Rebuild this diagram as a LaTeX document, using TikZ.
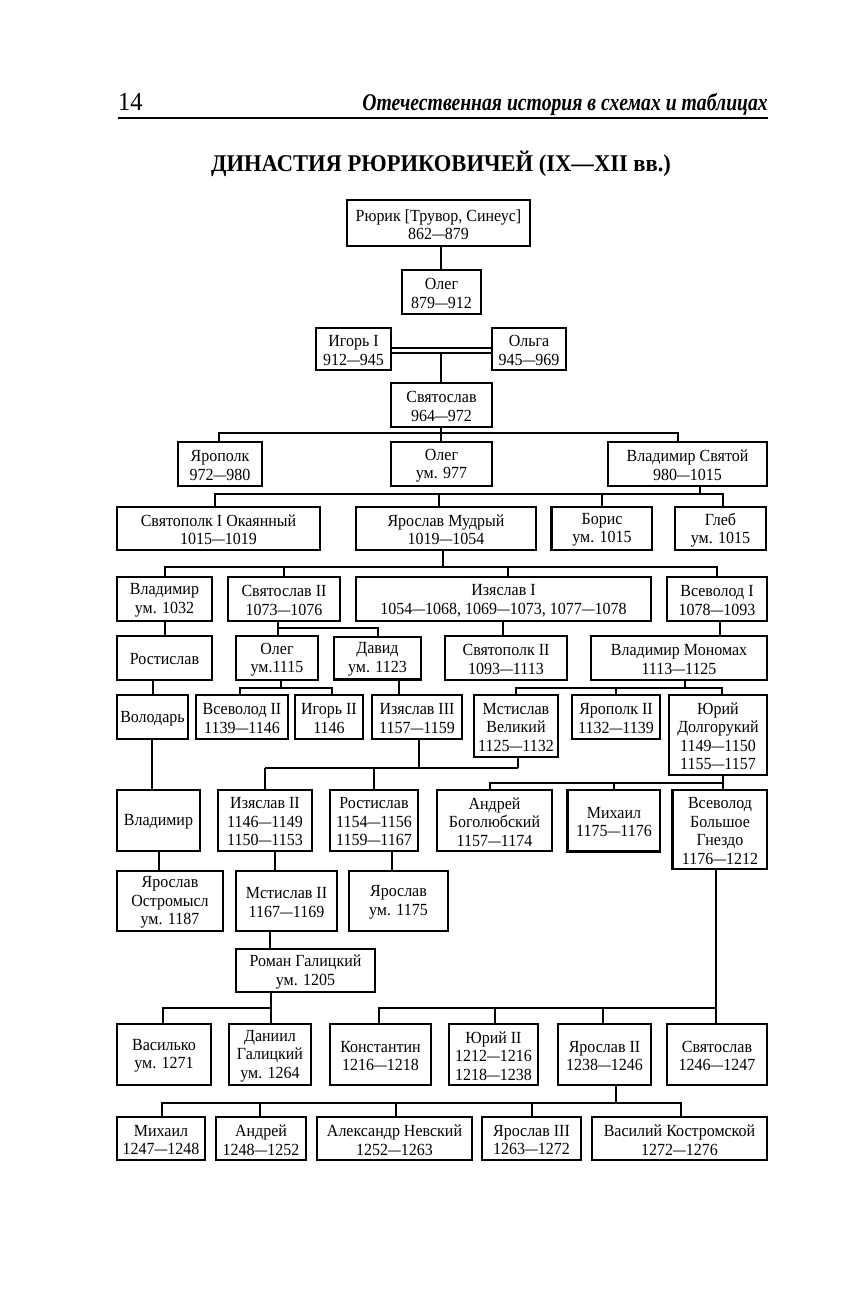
\documentclass[tikz,border=0pt]{standalone}
\usepackage{fontspec}
\setmainfont{Liberation Serif}[FakeStretch=0.94]
\newfontfamily\hdfont{Liberation Serif}[FakeStretch=0.82]
\newcommand\dsh{\scalebox{0.8}[1]{—}}
\tikzset{
  box/.style={draw, line width=1.2pt, inner sep=0pt},
  txt/.style={align=center, inner sep=0pt, font=\fontsize{17}{18.5}\selectfont},
  ln/.style={line width=1.1pt},
  thk/.style={line width=2pt}
}
\newcommand\bx[6]{%
  \node[box, minimum width={(#4-#2)*1pt}, minimum height={(#5-#3)*1pt}] (#1) at ({(#2+#4)/2},{(#3+#5)/2}) {};
  \node[txt] (#1t) at ([yshift=-1.5pt]#1.center) {#6};}
\begin{document}
\begin{tikzpicture}[x=1pt,y=-1pt]
\useasboundingbox[fill=white] (0,0) rectangle (845,1312);
% header
\node[anchor=base west, inner sep=0pt, font=\fontsize{26}{28}\selectfont] (pg) at (118,110) {14};
\node[anchor=base east, inner sep=0pt, font=\hdfont\fontsize{24}{28}\selectfont\bfseries\itshape] (hd) at (768,110) {Отечественная история в схемах и таблицах};
\coordinate (rl) at (118,118);
\coordinate (rr) at (768,118);
\draw[line width=1.5pt] (rl) -- (rr);
\node[anchor=base, inner sep=0pt, font=\fontsize{24}{28}\selectfont\bfseries] (title) at (441,171) {ДИНАСТИЯ РЮРИКОВИЧЕЙ (IX—XII вв.)};
% boxes
\bx{rurik}{347}{200}{530}{246}{Рюрик [Трувор, Синеус]\\862\dsh 879}
\bx{olegA}{402}{270}{481}{314}{Олег\\879\dsh 912}
\bx{igor}{316}{328}{391}{370}{Игорь I\\912\dsh 945}
\bx{olga}{492}{328}{566}{370}{Ольга\\945\dsh 969}
\bx{svyat}{391}{383}{492}{427}{Святослав\\964\dsh 972}
\bx{yaropolk}{178}{442}{262}{486}{Ярополк\\972\dsh 980}
\bx{olegB}{391}{442}{492}{486}{Олег\\ум. 977}
\bx{vladsv}{608}{442}{767}{486}{Владимир Святой\\980\dsh 1015}
\bx{svyatopolk}{117}{507}{320}{550}{Святополк I Окаянный\\1015\dsh 1019}
\bx{yaroslav}{356}{507}{536}{550}{Ярослав Мудрый\\1019\dsh 1054}
\bx{boris}{552}{507}{652}{550}{Борис\\ум. 1015}
\bx{gleb}{675}{507}{766}{550}{Глеб\\ум. 1015}
\bx{vladA}{117}{577}{212}{621}{Владимир\\ум. 1032}
\bx{svyatB}{228}{577}{340}{621}{Святослав II\\1073\dsh 1076}
\bx{izyasA}{356}{577}{651}{621}{Изяслав I\\1054\dsh 1068, 1069\dsh 1073, 1077\dsh 1078}
\bx{vsevA}{667}{577}{767}{621}{Всеволод I\\1078\dsh 1093}
\bx{rostisA}{117}{636}{212}{680}{Ростислав}
\bx{olegC}{236}{636}{318}{680}{Олег\\ум.1115}
\bx{david}{334}{637}{421}{679}{Давид\\ум. 1123}
\bx{svyatopB}{445}{636}{567}{680}{Святополк II\\1093\dsh 1113}
\bx{monomakh}{591}{636}{767}{680}{Владимир Мономах\\1113\dsh 1125}
\bx{volodar}{117}{695}{188}{739}{Володарь}
\bx{vsevB}{196}{695}{288}{739}{Всеволод II\\1139\dsh 1146}
\bx{igorB}{295}{695}{363}{739}{Игорь II\\1146}
\bx{izyasC}{372}{695}{462}{739}{Изяслав III\\1157\dsh 1159}
\bx{mstislav}{474}{695}{558}{757}{Мстислав\\Великий\\1125\dsh 1132}
\bx{yaropolkB}{572}{695}{660}{739}{Ярополк II\\1132\dsh 1139}
\bx{yuri}{669}{695}{767}{775}{Юрий\\Долгорукий\\1149\dsh 1150\\1155\dsh 1157}
\bx{vladB}{117}{790}{200}{851}{Владимир}
\bx{izyasB}{218}{790}{312}{851}{Изяслав II\\1146\dsh 1149\\1150\dsh 1153}
\bx{rostisB}{330}{790}{418}{851}{Ростислав\\1154\dsh 1156\\1159\dsh 1167}
\bx{andrey}{437}{790}{552}{851}{Андрей\\Боголюбский\\1157\dsh 1174}
\bx{mikhail}{568}{790}{660}{851}{Михаил\\1175\dsh 1176}
\bx{vsevbg}{673}{790}{767}{869}{Всеволод\\Большое\\Гнездо\\1176\dsh 1212}
\bx{yarostr}{117}{871}{223}{931}{Ярослав\\Остромысл\\ум. 1187}
\bx{mstisB}{236}{871}{337}{931}{Мстислав II\\1167\dsh 1169}
\bx{yaroC}{349}{871}{448}{931}{Ярослав\\ум. 1175}
\bx{roman}{236}{949}{375}{992}{Роман Галицкий\\ум. 1205}
\bx{vasilko}{117}{1024}{211}{1085}{Василько\\ум. 1271}
\bx{daniil}{229}{1024}{311}{1085}{Даниил\\Галицкий\\ум. 1264}
\bx{konst}{330}{1024}{431}{1085}{Константин\\1216\dsh 1218}
\bx{yuriB}{449}{1024}{538}{1085}{Юрий II\\1212\dsh 1216\\1218\dsh 1238}
\bx{yaroB}{558}{1024}{651}{1085}{Ярослав II\\1238\dsh 1246}
\bx{svyatC}{667}{1024}{767}{1085}{Святослав\\1246\dsh 1247}
\bx{mikhB}{117}{1117}{205}{1160}{Михаил\\1247\dsh 1248}
\bx{andrB}{216}{1117}{306}{1160}{Андрей\\1248\dsh 1252}
\bx{alex}{317}{1117}{472}{1160}{Александр Невский\\1252\dsh 1263}
\bx{yaroD}{482}{1117}{581}{1160}{Ярослав III\\1263\dsh 1272}
\bx{vasiliy}{592}{1117}{767}{1160}{Василий Костромской\\1272\dsh 1276}
% heavier printed edges
\draw[thk] (boris.north west) -- (boris.south west);
\draw[thk] (david.south west) -- (david.south east);
\draw[thk] (mikhail.north west) -- (mikhail.south west) -- (mikhail.south east);
\draw[thk] (vsevbg.north west) -- (vsevbg.south west);
% connectors
\draw[thk] (441,0 |- rurik.south) -- (441,0 |- olegA.north);
\draw[ln] (igor.east |- 0,348) -- (olga.west |- 0,348);
\draw[ln] (igor.east |- 0,353) -- (olga.west |- 0,353);
\draw[ln] (441,353) -- (441,0 |- svyat.north);
% Svyatoslav children
\draw[ln] (441,0 |- svyat.south) -- (441,433);
\draw[ln] (219,0 |- yaropolk.north) -- (219,433) -- (678,433) -- (678,0 |- vladsv.north);
\draw[ln] (441,433) -- (441,0 |- olegB.north);
% Vladimir Svyatoy children
\draw[ln] (700,0 |- vladsv.south) -- (700,494);
\draw[ln] (215,0 |- svyatopolk.north) -- (215,494) -- (723,494) -- (723,0 |- gleb.north);
\draw[ln] (439,494) -- (439,0 |- yaroslav.north);
\draw[ln] (602,494) -- (602,0 |- boris.north);
% Yaroslav children
\draw[ln] (443,0 |- yaroslav.south) -- (443,567);
\draw[ln] (165,0 |- vladA.north) -- (165,567) -- (717,567) -- (717,0 |- vsevA.north);
\draw[ln] (284,567) -- (284,0 |- svyatB.north);
\draw[ln] (508,567) -- (508,0 |- izyasA.north);
% row 5 -> 6
\draw[thk] (165,0 |- vladA.south) -- (165,0 |- rostisA.north);
\draw[ln] (278,0 |- svyatB.south) -- (278,0 |- olegC.north);
\draw[ln] (278,628) -- (378,628) -- (378,0 |- david.north);
\draw[ln] (503,0 |- izyasA.south) -- (503,0 |- svyatopB.north);
\draw[ln] (720,0 |- vsevA.south) -- (720,0 |- monomakh.north);
% row 6 -> 7
\draw[ln] (153,0 |- rostisA.south) -- (153,0 |- volodar.north);
\draw[ln] (281,0 |- olegC.south) -- (281,688);
\draw[ln] (240,0 |- vsevB.north) -- (240,688) -- (332,688) -- (332,0 |- igorB.north);
\draw[ln] (399,0 |- david.south) -- (399,0 |- izyasC.north);
\draw[ln] (685,0 |- monomakh.south) -- (685,688);
\draw[ln] (516,0 |- mstislav.north) -- (516,688) -- (722,688) -- (722,0 |- yuri.north);
\draw[ln] (616,688) -- (616,0 |- yaropolkB.north);
% row 7 -> 8
\draw[ln] (152,0 |- volodar.south) -- (152,0 |- vladB.north);
\draw[ln] (419,0 |- izyasC.south) -- (419,768);
\draw[ln] (518,0 |- mstislav.south) -- (518,768);
\draw[thk] (265,0 |- izyasB.north) -- (265,768);
\draw[ln] (265,768) -- (518,768);
\draw[ln] (374,768) -- (374,0 |- rostisB.north);
\draw[ln] (723,0 |- yuri.south) -- (723,783);
\draw[ln] (490,0 |- andrey.north) -- (490,783) -- (723,783) -- (723,0 |- vsevbg.north);
\draw[ln] (614,783) -- (614,0 |- mikhail.north);
% row 8 -> 9
\draw[ln] (159,0 |- vladB.south) -- (159,0 |- yarostr.north);
\draw[ln] (275,0 |- izyasB.south) -- (275,0 |- mstisB.north);
\draw[ln] (392,0 |- rostisB.south) -- (392,0 |- yaroC.north);
% row 9 -> 10
\draw[ln] (270,0 |- mstisB.south) -- (270,0 |- roman.north);
\draw[ln] (271,0 |- roman.south) -- (271,1008);
\draw[ln] (163,0 |- vasilko.north) -- (163,1008) -- (271,1008) -- (271,0 |- daniil.north);
\draw[thk] (716,0 |- vsevbg.south) -- (716,1008);
\draw[ln] (379,0 |- konst.north) -- (379,1008) -- (716,1008) -- (716,0 |- svyatC.north);
\draw[ln] (495,1008) -- (495,0 |- yuriB.north);
\draw[ln] (603,1008) -- (603,0 |- yaroB.north);
% Yaroslav II children
\draw[ln] (616,0 |- yaroB.south) -- (616,1103);
\draw[ln] (162,0 |- mikhB.north) -- (162,1103) -- (681,1103) -- (681,0 |- vasiliy.north);
\draw[ln] (260,1103) -- (260,0 |- andrB.north);
\draw[ln] (396,1103) -- (396,0 |- alex.north);
\draw[ln] (532,1103) -- (532,0 |- yaroD.north);
\end{tikzpicture}
\end{document}
